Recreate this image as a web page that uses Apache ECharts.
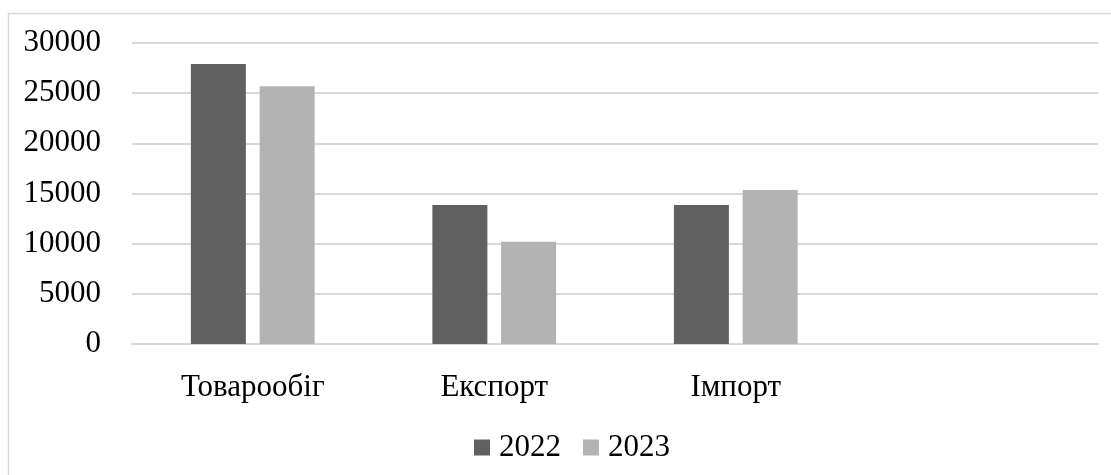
<!DOCTYPE html>
<html>
<head>
<meta charset="utf-8">
<script src="https://cdn.jsdelivr.net/npm/echarts@6/dist/echarts.min.js"></script>
<style>
  html, body { margin: 0; padding: 0; background: #ffffff; }
  #chart { width: 1111px; height: 475px; }
</style>
</head>
<body>
<div id="chart"></div>
<script>
// Categories (the fourth slot is left empty on purpose)
const categories = ['Товарообіг', 'Експорт', 'Імпорт', ''];
const seriesNames = ['2022', '2023'];
const values2022 = [27900, 13850, 13850, null];
const values2023 = [25700, 10200, 15350, null];
const yTicks = { min: 0, max: 30000, interval: 5000 };

const FONT = '"Liberation Serif", "DejaVu Serif", serif';
const GRID_COLOR = '#d9d9d9';

const chart = echarts.init(document.getElementById('chart'), null, { renderer: 'canvas' });

chart.setOption({
  backgroundColor: '#ffffff',
  animation: false,
  textStyle: { fontFamily: FONT },
  graphic: [{
    type: 'rect',
    shape: { x: 8.5, y: 13.5, width: 1200, height: 600 },
    style: { fill: 'none', stroke: GRID_COLOR, lineWidth: 1.5 },
    silent: true,
    z: -10
  }],
  grid: { left: 132, right: 13, top: 43, bottom: 131, containLabel: false },
  legend: {
    data: seriesNames,
    top: 427,
    left: 469,
    itemWidth: 16,
    itemHeight: 16,
    itemGap: 22,
    icon: 'rect',
    textStyle: { fontFamily: FONT, fontSize: 31, color: '#000000', padding: [0, 0, 0, 4] }
  },
  xAxis: {
    type: 'category',
    data: categories,
    axisLine: { show: true, lineStyle: { color: GRID_COLOR, width: 2 } },
    axisTick: { show: false },
    axisLabel: { fontFamily: FONT, fontSize: 31, color: '#000000', margin: 28, interval: 0 }
  },
  yAxis: {
    type: 'value',
    min: yTicks.min,
    max: yTicks.max,
    interval: yTicks.interval,
    axisLine: { show: false },
    axisTick: { show: false },
    splitLine: { lineStyle: { color: GRID_COLOR, width: 2 } },
    axisLabel: {
      fontFamily: FONT, fontSize: 31, color: '#000000', margin: 31,
      formatter: (v) => String(v)
    }
  },
  series: [
    {
      name: seriesNames[0],
      type: 'bar',
      data: values2022,
      barWidth: 55,
      barGap: '25%',
      itemStyle: { color: '#606060' }
    },
    {
      name: seriesNames[1],
      type: 'bar',
      data: values2023,
      barWidth: 55,
      barGap: '25%',
      itemStyle: { color: '#b3b3b3' }
    }
  ]
});
</script>
</body>
</html>
